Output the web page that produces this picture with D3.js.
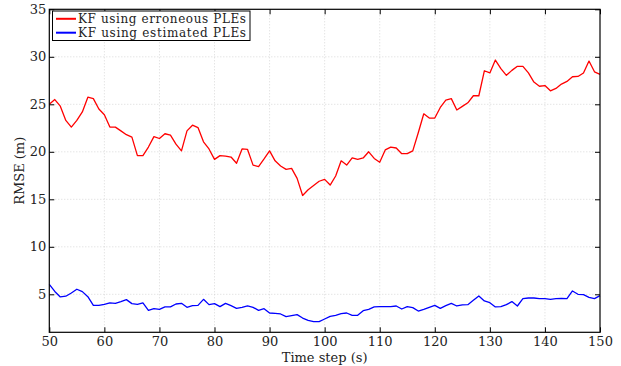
<!DOCTYPE html>
<html>
<head>
<meta charset="utf-8">
<script src="https://cdn.jsdelivr.net/npm/d3@7"></script>
<style>
  body { margin: 0; background: #fff; }
  svg text { font-family: "DejaVu Serif", serif; fill: #222; }
</style>
</head>
<body>
<svg id="chart" width="621" height="366"></svg>
<script>
// time steps 50..150 (one sample per second)
const timeSteps = d3.range(50, 151);

const erroneousPLE = [
  25.0, 25.5, 24.8, 23.3, 22.6, 23.3, 24.2, 25.75, 25.6, 24.5,
  23.9, 22.6, 22.6, 22.2, 21.8, 21.55, 19.6, 19.6, 20.5, 21.6,
  21.4, 21.9, 21.75, 20.8, 20.1, 22.2, 22.8, 22.55, 21.05, 20.3,
  19.2, 19.6, 19.55, 19.45, 18.8, 20.3, 20.25, 18.6, 18.45, 19.25,
  20.1, 19.05, 18.5, 18.15, 18.25, 17.2, 15.4, 16.0, 16.45, 16.9,
  17.1, 16.5, 17.45, 19.05, 18.6, 19.35, 19.2, 19.35, 20.0, 19.3,
  18.9, 20.2, 20.5, 20.4, 19.8, 19.8, 20.1, 22.0, 24.0, 23.55,
  23.55, 24.67, 25.44, 25.6, 24.4, 24.78, 25.16, 25.9, 25.9, 28.53,
  28.3, 29.66, 28.75, 28.05, 28.57, 29.0, 29.0, 28.3, 27.34, 26.9,
  26.97, 26.42, 26.67, 27.13, 27.41, 27.9, 27.93, 28.3, 29.55, 28.42,
  28.15
];

const estimatedPLE = [
  6.05, 5.3, 4.72, 4.8, 5.14, 5.53, 5.28, 4.75, 3.84, 3.84,
  3.95, 4.09, 4.05, 4.23, 4.44, 4.02, 3.95, 4.09, 3.31, 3.49,
  3.42, 3.67, 3.67, 3.98, 4.05, 3.63, 3.8, 3.84, 4.47, 3.91,
  4.02, 3.7, 4.05, 3.8, 3.52, 3.63, 3.77, 3.63, 3.31, 3.49,
  3.03, 3.0, 2.93, 2.65, 2.75, 2.86, 2.5, 2.26, 2.12, 2.12,
  2.4, 2.68, 2.79, 2.96, 3.03, 2.79, 2.79, 3.28, 3.42, 3.67,
  3.7, 3.7, 3.7, 3.77, 3.45, 3.7, 3.6, 3.24, 3.42, 3.63,
  3.84, 3.52, 3.8, 4.05, 3.77, 3.88, 3.91, 4.37, 4.82, 4.3,
  4.12, 3.67, 3.7, 3.91, 4.23, 3.77, 4.54, 4.61, 4.61, 4.54,
  4.54, 4.47, 4.54, 4.58, 4.54, 5.35, 5.0, 4.96, 4.68, 4.54,
  4.86
];

const xTicks = [50, 60, 70, 80, 90, 100, 110, 120, 130, 140, 150];
const yTicks = [5, 10, 15, 20, 25, 30, 35];

const seriesNames = ["KF using erroneous PLEs", "KF using estimated PLEs"];
const seriesColors = ["#ff0000", "#0000ff"];

const plotLeft = 49.3, plotRight = 600, plotTop = 9.3, plotBottom = 332.3;
const fontSize = "13px";

const svg = d3.select("#chart");

const x = d3.scaleLinear().domain([50, 150]).range([plotLeft, plotRight]);
const y = d3.scaleLinear().domain([1, 35]).range([plotBottom, plotTop]);

// grid
const grid = svg.append("g");
grid.selectAll(".gx")
  .data(xTicks.slice(1, -1))
  .enter()
  .append("line")
  .attr("x1", d => x(d))
  .attr("x2", d => x(d))
  .attr("y1", plotTop)
  .attr("y2", plotBottom)
  .attr("stroke", "#cfcfcf")
  .attr("stroke-width", 0.8)
  .attr("stroke-dasharray", "1,2");
grid.selectAll(".gy")
  .data(yTicks.slice(0, -1))
  .enter()
  .append("line")
  .attr("x1", plotLeft)
  .attr("x2", plotRight)
  .attr("y1", d => y(d))
  .attr("y2", d => y(d))
  .attr("stroke", "#cfcfcf")
  .attr("stroke-width", 0.8)
  .attr("stroke-dasharray", "1,2");

// lines
const line = d3.line()
  .x((d, i) => x(timeSteps[i]))
  .y(d => y(d));

[erroneousPLE, estimatedPLE].forEach((vals, i) => {
  svg.append("path")
    .datum(vals)
    .attr("d", line)
    .attr("fill", "none")
    .attr("stroke", seriesColors[i])
    .attr("stroke-width", 1.3)
    .attr("stroke-linejoin", "round");
});

// axes, MATLAB style: inward ticks on all four sides
const tickLen = 5;
const xAxis = svg.append("g")
  .attr("transform", `translate(0,${plotBottom})`)
  .call(d3.axisBottom(x).tickValues(xTicks).tickSizeInner(-tickLen).tickSizeOuter(0).tickPadding(4));
const xAxisTop = svg.append("g")
  .attr("transform", `translate(0,${plotTop})`)
  .call(d3.axisTop(x).tickValues(xTicks).tickSizeInner(-tickLen).tickSizeOuter(0).tickFormat(""));
const yAxis = svg.append("g")
  .attr("transform", `translate(${plotLeft},0)`)
  .call(d3.axisLeft(y).tickValues(yTicks).tickSizeInner(-tickLen).tickSizeOuter(0).tickPadding(3));
const yAxisRight = svg.append("g")
  .attr("transform", `translate(${plotRight},0)`)
  .call(d3.axisRight(y).tickValues(yTicks).tickSizeInner(-tickLen).tickSizeOuter(0).tickFormat(""));

[xAxis, xAxisTop, yAxis, yAxisRight].forEach(a => {
  a.select(".domain").remove();
  a.selectAll("line").attr("stroke", "#000");
  a.selectAll("text")
    .attr("font-family", null)
    .attr("font-size", null)
    .style("font-size", fontSize)
    .attr("fill", "#222");
});

svg.append("rect")
  .attr("x", plotLeft)
  .attr("y", plotTop)
  .attr("width", plotRight - plotLeft)
  .attr("height", plotBottom - plotTop)
  .attr("fill", "none")
  .attr("stroke", "#000")
  .attr("stroke-width", 1.2);

// axis titles
svg.append("text")
  .attr("x", (plotLeft + plotRight) / 2)
  .attr("y", 361.5)
  .attr("text-anchor", "middle")
  .style("font-size", fontSize)
  .text("Time step (s)");

svg.append("text")
  .attr("transform", `translate(24,${(plotTop + plotBottom) / 2}) rotate(-90)`)
  .attr("text-anchor", "middle")
  .style("font-size", fontSize)
  .text("RMSE (m)");

// legend
const legend = svg.append("g");
legend.append("rect")
  .attr("x", 52.5)
  .attr("y", 11)
  .attr("width", 197.5)
  .attr("height", 29.5)
  .attr("fill", "#fff")
  .attr("stroke", "#000")
  .attr("stroke-width", 1);

seriesNames.forEach((name, i) => {
  const ly = 18.8 + i * 13.9;
  legend.append("line")
    .attr("x1", 56)
    .attr("x2", 76)
    .attr("y1", ly)
    .attr("y2", ly)
    .attr("stroke", seriesColors[i])
    .attr("stroke-width", 2);
  legend.append("text")
    .attr("x", 78)
    .attr("y", ly + 4.3)
    .attr("textLength", 168)
    .attr("lengthAdjust", "spacing")
    .style("font-size", "12px")
    .text(name);
});
</script>
</body>
</html>
